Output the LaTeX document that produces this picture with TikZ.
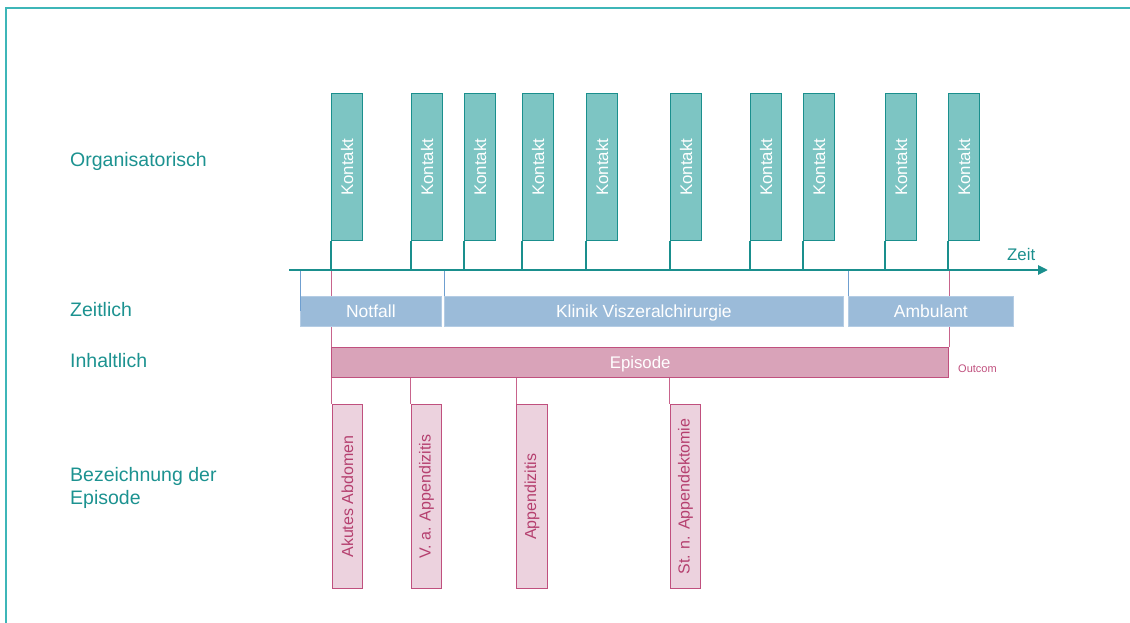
\documentclass[tikz,border=0pt]{standalone}
\usepackage{fontspec}
\setmainfont{Liberation Sans}
\usetikzlibrary{arrows.meta}

\definecolor{tealdark}{HTML}{1A8F8D}
\definecolor{tealfill}{HTML}{7DC5C3}
\definecolor{labelteal}{HTML}{1C9290}
\definecolor{framecol}{HTML}{3DB6B8}
\definecolor{bluebar}{HTML}{9BBBD9}
\definecolor{blueedge}{HTML}{B4CCE4}
\definecolor{bluetick}{HTML}{6F9FD0}
\definecolor{pinkedge}{HTML}{C0507E}
\definecolor{pinkfill}{HTML}{D9A3B9}
\definecolor{pinklight}{HTML}{ECD2DE}
\definecolor{pinktext}{HTML}{B5406F}
\definecolor{pinkline}{HTML}{C8648C}

\tikzset{
  rowlabel/.style={anchor=base west, inner sep=0pt, text=labelteal,
    font=\fontsize{19.5}{22.7}\selectfont, align=left},
  kontakt/.style={anchor=north west, draw=tealdark, line width=1.3pt, fill=tealfill,
    minimum width=31pt, minimum height=147pt, inner sep=0pt, text=white,
    font=\fontsize{16.8}{19}\selectfont},
  zeitbar/.style={anchor=north west, draw=blueedge, line width=0.8pt, fill=bluebar,
    minimum height=30pt, inner sep=0pt, text=white, text height=12.5pt, text depth=0pt,
    font=\fontsize{17.5}{20}\selectfont},
  episodebar/.style={anchor=north west, draw=pinkedge, line width=1.3pt, fill=pinkfill,
    minimum height=30pt, inner sep=0pt, text=white, text height=12pt, text depth=0pt,
    font=\fontsize{16.8}{19}\selectfont},
  epilabel/.style={anchor=north west, draw=pinkedge, line width=1.3pt, fill=pinklight,
    minimum width=30.5pt, minimum height=184pt, inner sep=0pt, text=pinktext,
    font=\fontsize{16}{19}\selectfont},
  kline/.style={draw=tealdark, line width=1.2pt},
  pline/.style={draw=pinkline, line width=1pt},
  bline/.style={draw=bluetick, line width=1pt},
  axisline/.style={draw=tealdark, line width=2.6pt,
    -{Triangle[length=10pt,width=9pt]}},
}

\begin{document}
\begin{tikzpicture}[x=1pt,y=-1pt]
  \useasboundingbox (0,0) rectangle (1130,623);

  % outer frame
  \draw[framecol, line width=2pt] (1131,8) -- (6,8) -- (6,624);

  % row captions
  \node[rowlabel] (lorg) at (70,167) {Organisatorisch};
  \node[rowlabel] (lzeit) at (70,316.5) {Zeitlich};
  \node[rowlabel] (linh) at (70,367) {Inhaltlich};
  \node[rowlabel, anchor=north west] (lbez) at (70,467) {Bezeichnung der\\Episode};

  % time axis end points
  \coordinate (axL) at (289,270);
  \coordinate (axR) at (1048,270);

  % contacts
  \foreach \x [count=\i] in {331,411,464,522,586,670,750,803,885,948} {
    \node[kontakt] (k\i) at (\x,93) {\rotatebox{90}{Kontakt}};
    \draw[kline] (k\i.south west) -- (k\i.south west |- axL);
  }

  % episode bar
  \node[episodebar, minimum width=617pt] (episode) at (331,347) {Episode};
  \node[anchor=base west, inner sep=0pt, text=pinkedge,
        font=\fontsize{11}{13}\selectfont] (outcome) at (958,372.5) {Outcom};

  % episode limits down from the axis (behind the time bars)
  \draw[pline] (episode.north west |- axL) -- (episode.north west);
  \draw[pline] (episode.north east |- axL) -- (episode.north east);

  % time bars
  \node[zeitbar, minimum width=141pt] (notfall) at (300,296) {Notfall};
  \node[zeitbar, minimum width=399pt] (klinik) at (444,296) {Klinik Viszeralchirurgie};
  \node[zeitbar, minimum width=165pt] (ambulant) at (848,296) {Ambulant};

  \draw[bline] (notfall.north west |- axL) -- (notfall.west);
  \draw[bline] (klinik.north west |- axL) -- (klinik.north west);
  \draw[bline] (ambulant.north west |- axL) -- (ambulant.north west);

  % axis
  \draw[axisline] (axL) -- (axR);
  \node[anchor=base west, inner sep=0pt, text=tealdark,
        font=\fontsize{16.8}{19}\selectfont] (zeit) at (1007,260.5) {Zeit};

  % episode names
  \node[epilabel] (e1) at (331.5,404) {\rotatebox{90}{Akutes Abdomen}};
  \node[epilabel] (e2) at (410.5,404) {\rotatebox{90}{V. a. Appendizitis}};
  \node[epilabel] (e3) at (516,404) {\rotatebox{90}{Appendizitis}};
  \node[epilabel] (e4) at (669.5,404) {\rotatebox{90}{St. n. Appendektomie}};

  \foreach \i in {1,...,4} {
    \draw[pline] (e\i.north west |- episode.south) -- (e\i.north west);
  }
\end{tikzpicture}
\end{document}
